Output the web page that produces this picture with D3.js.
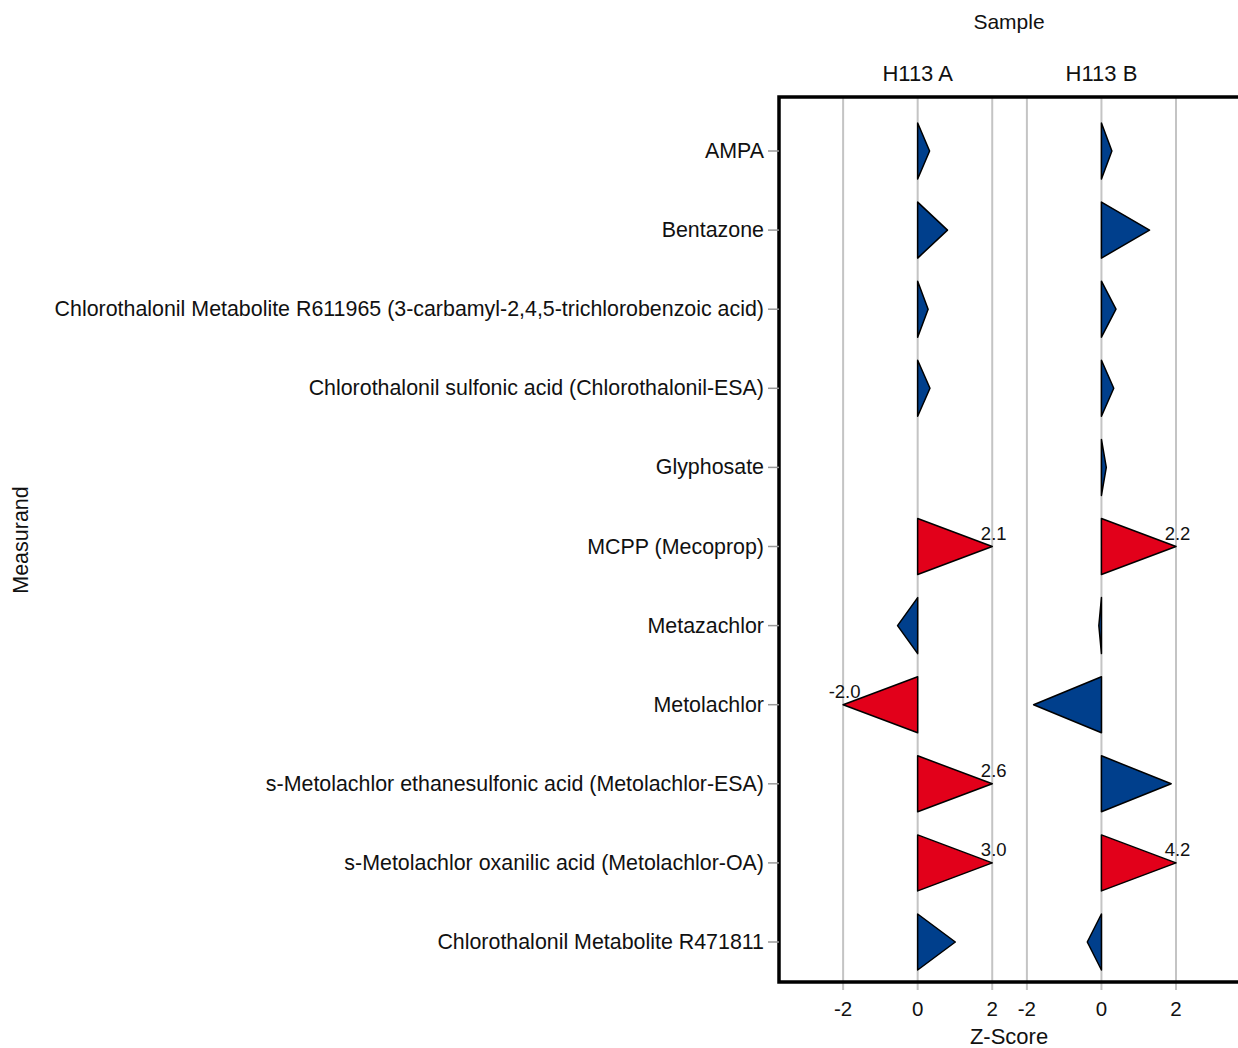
<!DOCTYPE html>
<html><head><meta charset="utf-8">
<script src="https://cdn.jsdelivr.net/npm/d3@7"></script>
<style>body{margin:0;background:#fff}svg{display:block}text{font-family:"Liberation Sans",Arial,sans-serif;fill:#111}</style>
</head><body><svg id="c" width="1238" height="1048"></svg>
<script>
const measurands = ["AMPA","Bentazone","Chlorothalonil Metabolite R611965 (3-carbamyl-2,4,5-trichlorobenzoic acid)","Chlorothalonil sulfonic acid (Chlorothalonil-ESA)","Glyphosate","MCPP (Mecoprop)","Metazachlor","Metolachlor","s-Metolachlor ethanesulfonic acid (Metolachlor-ESA)","s-Metolachlor oxanilic acid (Metolachlor-OA)","Chlorothalonil Metabolite R471811"];
const samples = ["H113 A","H113 B"];
const zA = [0.32,0.80,0.28,0.33,null,2.1,-0.54,-2.0,2.6,3.0,1.01];
const zB = [0.28,1.29,0.39,0.33,0.13,2.2,-0.07,-1.82,1.87,4.2,-0.38];
const ticks = [-2,0,2];
const domains = [[-3.72,2.45],[-2.48,3.69]];

const svg = d3.select("#c");
const L = 779, R = 1239, T = 97, B = 982;
const panelW = (R - L) / samples.length;
const y = d3.scalePoint().domain(measurands).range([151, 942]);
const half = 28;
const blue = "#003f8c", red = "#e2001a";

samples.forEach((s, i) => {
  const x0 = L + i * panelW;
  const x = d3.scaleLinear().domain(domains[i]).range([x0, x0 + panelW]);
  const g = svg.append("g");
  g.selectAll("line.grid").data(ticks).join("line")
    .attr("x1", d => x(d)).attr("x2", d => x(d)).attr("y1", T).attr("y2", B + 8)
    .attr("stroke", "#c4c4c4").attr("stroke-width", 2);
  g.selectAll("text.tick").data(ticks).join("text")
    .attr("x", d => x(d)).attr("y", 1016).attr("text-anchor", "middle")
    .attr("font-size", 20.5).text(d => d);
  svg.append("text").attr("x", x(0)).attr("y", 81).attr("text-anchor", "middle")
    .attr("font-size", 22).text(s);
  const vals = i === 0 ? zA : zB;
  const data = measurands.map((m, k) => ({m, z: vals[k]})).filter(d => d.z !== null);
  g.selectAll("path.tri").data(data).join("path")
    .attr("d", d => {
      const zc = Math.max(-2, Math.min(2, d.z));
      const cy = y(d.m);
      return `M${x(0)},${cy - half}L${x(zc)},${cy}L${x(0)},${cy + half}Z`;
    })
    .attr("fill", d => Math.abs(d.z) >= 2 ? red : blue)
    .attr("stroke", "#000").attr("stroke-width", 1.5).attr("stroke-linejoin", "round");
  g.selectAll("text.lab").data(data.filter(d => Math.abs(d.z) >= 2)).join("text")
    .attr("x", d => x(Math.max(-2, Math.min(2, d.z))) + 1.5).attr("y", d => y(d.m) - 7)
    .attr("text-anchor", "middle").attr("font-size", 18.5).text(d => d.z.toFixed(1));
});

svg.append("path").attr("d", `M${R + 5},${T}H${L}V${B}H${R + 5}`)
  .attr("fill", "none").attr("stroke", "#000").attr("stroke-width", 3.5);

svg.selectAll("line.yt").data(measurands).join("line")
  .attr("x1", 768).attr("x2", L).attr("y1", d => y(d)).attr("y2", d => y(d))
  .attr("stroke", "#999").attr("stroke-width", 1.5);
svg.selectAll("text.yl").data(measurands).join("text")
  .attr("x", 764).attr("y", d => y(d)).attr("dy", "0.33em").attr("text-anchor", "end")
  .attr("font-size", 21.4).text(d => d);

svg.append("text").attr("x", 1009).attr("y", 29).attr("text-anchor", "middle").attr("font-size", 21).text("Sample");
svg.append("text").attr("x", 1009).attr("y", 1044).attr("text-anchor", "middle").attr("font-size", 22).text("Z-Score");
svg.append("text").attr("transform", "translate(28,540) rotate(-90)").attr("text-anchor", "middle").attr("font-size", 21.5).text("Measurand");
</script></body></html>
